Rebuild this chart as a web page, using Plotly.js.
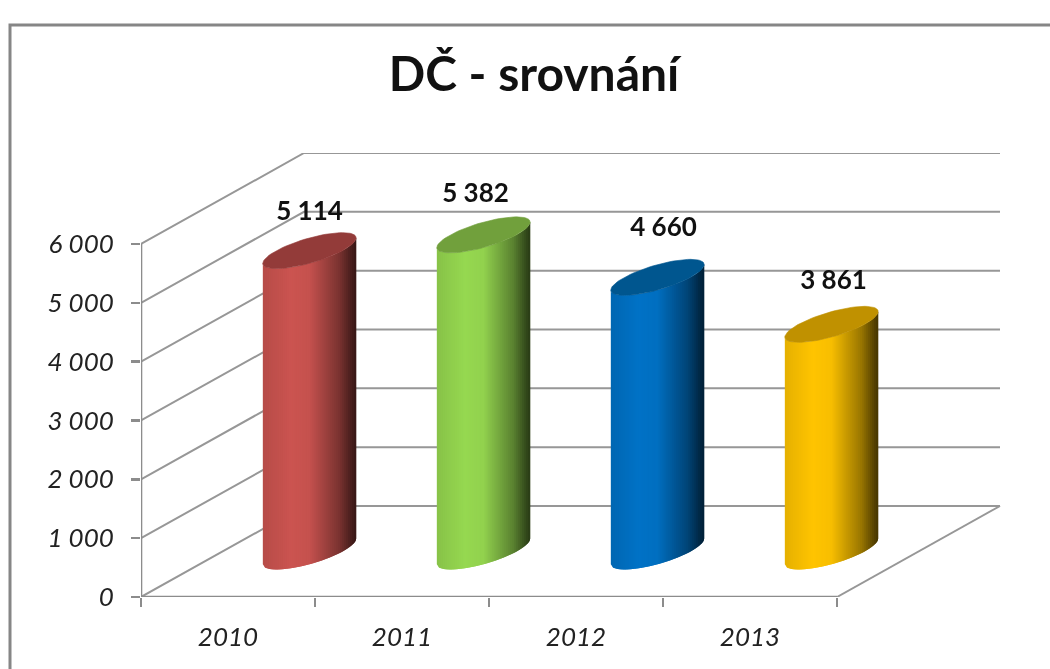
<!DOCTYPE html>
<html><head><meta charset="utf-8">
<script src="https://cdn.plot.ly/plotly-3.0.1.min.js"></script>
<style>html,body{margin:0;padding:0;background:#fff;overflow:hidden}#c{width:1050px;height:669px;filter:blur(0.5px)}</style>
</head><body><div id="c"></div>
<script>
const categories = ['2010','2011','2012','2013'];
const values = [5114,5382,4660,3861];
const valueLabels = ['5 114','5 382','4 660','3 861'];
const yTickVals = [0,1000,2000,3000,4000,5000,6000];
const yTickText = ['0','1 000','2 000','3 000','4 000','5 000','6 000'];
const bodyColors = [[203,84,80],[150,216,80],[0,114,198],[255,196,0]];
const capColors = ['#933b39','#71a03c','#00568f','#c09100'];
const labelNudge = [[0,37],[-8,39],[6,48],[2,42]];

// Layout geometry (page pixels)
const W=1050,H=669,L=141,R=1002,T=153,B=597;
const catPx=174, valPx=353/6000;
const dx=163/catPx, dy=91/valPx;              // depth vector in axis units
const halfA=33/catPx, halfB=33/catPx, halfC=18/valPx; // ellipse terms
const gray='#979797', axisGray='#8c8c8c';
const traces=[];
function line(x,y,w,c){traces.push({type:'scatter',mode:'lines',x,y,line:{color:c||gray,width:w||2},hoverinfo:'skip',showlegend:false,cliponaxis:false});}

// walls and floor
yTickVals.forEach(v=>line([-0.5,-0.5+dx,4-0.5+dx],[v,v+dy,v+dy]));
line([3.5,3.5+dx],[0,dy]);
line([-0.5,-0.5],[0,6000],2.6,axisGray);
line([-0.5,3.5],[0,0],2.6,axisGray);

const shade=[[0,.90],[.3,1],[.5,.97],[.62,.83],[.82,.6],[.96,.33],[1,.27]];
function f(u){for(let i=1;i<shade.length;i++){if(u<=shade[i][0]){const a=shade[i-1],b=shade[i];return a[1]+(b[1]-a[1])*(u-a[0])/(b[0]-a[0]);}}return shade[shade.length-1][1];}
const depth=0.5, N=47, rot=Math.PI/4;
values.forEach((v,i)=>{
  const cx=i+dx*depth, cy=dy*depth;
  const pt=(u)=>{const t=rot+2*Math.PI-Math.acos(2*u-1);return [halfA*Math.cos(t)+halfB*Math.sin(t),halfC*Math.sin(t)];};
  const xs=u=>cx+pt(u)[0], ys=u=>pt(u)[1];
  for(let k=0;k<N;k++){
    const u0=k/N,u1=Math.min(1,(k+2)/N),m=f((k+.5)/N);
    const col='rgb('+bodyColors[i].map(c=>Math.round(c*m)).join(',')+')';
    const us=[];for(let j=0;j<=4;j++)us.push(u0+(u1-u0)*j/4);
    const rev=us.slice().reverse();
    traces.push({type:'scatter',mode:'lines',fill:'toself',fillcolor:col,line:{color:col,width:0},
      x:us.map(xs).concat(rev.map(xs),[xs(u0)]),
      y:us.map(u=>cy+ys(u)).concat(rev.map(u=>cy+v+ys(u)),[cy+ys(u0)]),
      hoverinfo:'skip',showlegend:false,cliponaxis:false});
  }
  const ex=[],ey=[];
  for(let d=0;d<=72;d++){const t=d*5*Math.PI/180;ex.push(cx+halfA*Math.cos(t)+halfB*Math.sin(t));ey.push(cy+v+halfC*Math.sin(t));}
  traces.push({type:'scatter',mode:'lines',fill:'toself',fillcolor:capColors[i],line:{color:capColors[i],width:0.6},x:ex,y:ey,hoverinfo:'skip',showlegend:false,cliponaxis:false});
  traces.push({type:'scatter',mode:'text',x:[cx+labelNudge[i][0]/catPx],y:[cy+v+labelNudge[i][1]/valPx],text:[valueLabels[i]],
    textposition:'middle center',textfont:{family:'Lato, sans-serif',size:26,color:'#111',weight:700},hoverinfo:'skip',showlegend:false,cliponaxis:false});
});

const pw=R-L,ph=B-T;
const px=x=>(x-L)/pw, py=y=>(B-y)/ph;
const layout={
  width:W,height:H,paper_bgcolor:'#fff',plot_bgcolor:'#fff',showlegend:false,
  margin:{l:L,r:W-R,t:T,b:H-B,pad:0},
  title:{text:'DČ - srovnání',font:{family:'Lato, sans-serif',size:48,color:'#111',weight:700},x:534/W,xanchor:'center',y:1-74/H,yanchor:'middle'},
  xaxis:{range:[-0.5,-0.5+pw/catPx],tickmode:'array',tickvals:[0,1,2,3],ticktext:categories,ticks:'',showgrid:false,zeroline:false,showline:false,
    tickfont:{family:'Lato, sans-serif',size:26,color:'#222',style:'italic'},ticklabelstandoff:22,
    minor:{tickmode:'array',tickvals:[-0.5,0.5,1.5,2.5,3.5],ticks:'outside',ticklen:9,tickwidth:2.4,tickcolor:axisGray,showgrid:false}},
  yaxis:{range:[0,ph/valPx],tickmode:'array',tickvals:yTickVals,ticktext:yTickText,ticks:'outside',ticklen:9,tickwidth:2.4,tickcolor:axisGray,showgrid:false,zeroline:false,showline:false,
    tickfont:{family:'Lato, sans-serif',size:26,color:'#222',style:'italic'},ticklabelstandoff:12},
  shapes:[{type:'path',xref:'paper',yref:'paper',path:`M ${px(10)} ${py(H+5)} L ${px(10)} ${py(25)} L ${px(W+5)} ${py(25)}`,line:{color:'#868686',width:3}}]
};
Plotly.newPlot('c',traces,layout,{staticPlot:true,displayModeBar:false});
</script></body></html>
